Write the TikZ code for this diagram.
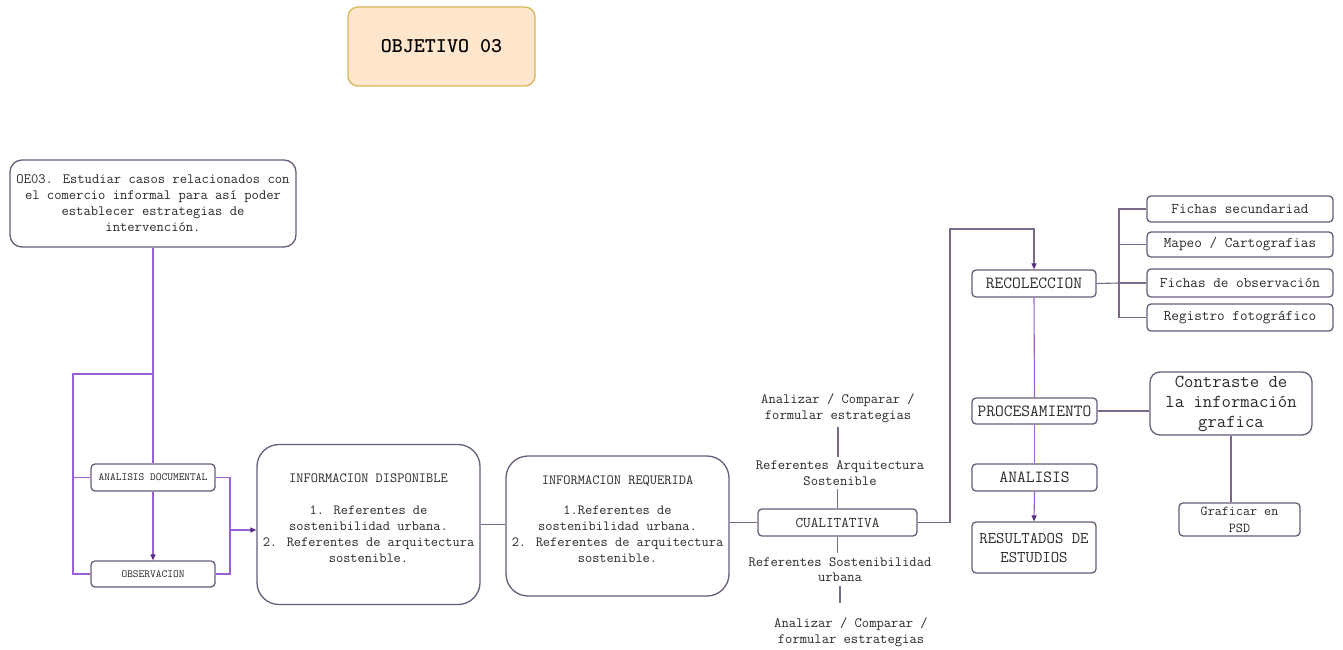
\documentclass[tikz,border=0pt]{standalone}
\usepackage{fontspec}
\newfontfamily\ttbold{lmmonolt10-bold.otf}
\usetikzlibrary{arrows.meta}
\definecolor{boxb}{HTML}{6B5B7B}
\definecolor{lineA}{HTML}{9B5FD6}
\definecolor{lineB}{HTML}{7A6A8A}
\definecolor{tipc}{HTML}{5B2C83}
\definecolor{objfill}{HTML}{FFE6CC}
\definecolor{objdraw}{HTML}{D6B656}
\definecolor{txt}{HTML}{2A2A2A}
\newcommand{\fs}[2]{\ttfamily\fontsize{#1}{#2}\selectfont}
\begin{document}
\begin{tikzpicture}[x=1pt,y=-1pt,
  box/.style={draw=boxb, line width=1.3pt, rounded corners=4pt, inner sep=0pt, align=center, text=txt},
  bigbox/.style={box, rounded corners=22pt},
  plain/.style={inner sep=4pt, align=center, text=txt},
  conA/.style={draw=lineA, line width=1.1pt},
  conB/.style={draw=lineB, line width=1.1pt},
  arr/.style={-{Triangle[length=6pt,width=5pt,color=tipc]}}
]
\useasboundingbox (0,0) rectangle (1343,650);
\fill[white] (0,0) rectangle (1343,650);

% title
\node[box, draw=objdraw, fill=objfill, rounded corners=10pt, minimum width=187pt, minimum height=79pt, font=\ttbold\fontsize{21}{24}\selectfont, text=black] (obj) at (441.5,46.5) {OBJETIVO 03};

% objective
\node[box, rounded corners=12pt, minimum width=286pt, minimum height=87pt, font=\fs{14.2}{16}] (oe) at (153,203.5)
  {OE03. Estudiar casos relacionados con\\el comercio informal para así poder\\establecer estrategias de\\intervención.};

\node[box, minimum width=124pt, minimum height=27pt, font=\fs{10.9}{12}] (ad) at (153,477.5) {ANALISIS DOCUMENTAL};
\node[box, minimum width=124pt, minimum height=26pt, font=\fs{10.9}{12}] (obs) at (153,574) {OBSERVACION};

\node[bigbox, minimum width=223pt, minimum height=160pt] (disp) at (368.5,524.5) {};
\node[plain, font=\fs{14}{16}] (disptxt) at (368.5,518.5)
  {INFORMACION DISPONIBLE\\[16pt]1. Referentes de\\sostenibilidad urbana.\\2. Referentes de arquitectura\\sostenible.};

\node[bigbox, minimum width=223pt, minimum height=140pt] (req) at (617.5,526) {};
\node[plain, font=\fs{14}{16}] (reqtxt) at (617.5,519.5)
  {INFORMACION REQUERIDA\\[14pt]1.Referentes de\\sostenibilidad urbana.\\2. Referentes de arquitectura\\sostenible.};

\node[box, minimum width=159pt, minimum height=27pt, font=\fs{14.8}{16}] (cual) at (837.5,522.5) {CUALITATIVA};

\node[plain, font=\fs{14.2}{15.5}] (la1) at (838,408) {Analizar / Comparar /\\formular estrategias};
\node[plain, font=\fs{14.2}{15.5}] (la2) at (840,473) {Referentes Arquitectura\\Sostenible};
\node[plain, font=\fs{14.2}{15.5}] (lb1) at (840,569.5) {Referentes Sostenibilidad\\urbana};
\node[plain, font=\fs{14.2}{15.5}] (lb2) at (851,632) {Analizar / Comparar /\\formular estrategias};

\node[box, minimum width=124pt, minimum height=27pt, font=\fs{17}{18}] (rec) at (1034,283.5) {RECOLECCION};
\node[box, minimum width=186pt, minimum height=26pt, font=\fs{14.8}{16}] (f1) at (1240,209) {Fichas secundariad};
\node[box, minimum width=186pt, minimum height=25pt, font=\fs{14.8}{16}] (f2) at (1240,244.5) {Mapeo / Cartografias};
\node[box, minimum width=186pt, minimum height=28pt, font=\fs{14.8}{16}] (f3) at (1240,283) {Fichas de observación};
\node[box, minimum width=186pt, minimum height=27pt, font=\fs{14.8}{16}] (f4) at (1240,317.5) {Registro fotográfico};

\node[box, minimum width=125pt, minimum height=26pt, font=\fs{17}{18}] (proc) at (1034.5,411) {PROCESAMIENTO};
\node[box, minimum width=125pt, minimum height=27pt, font=\fs{17}{18}] (ana) at (1034.5,477.5) {ANALISIS};
\node[box, minimum width=124pt, minimum height=51pt, font=\fs{16.3}{19}] (res) at (1034,547.5) {RESULTADOS DE\\ESTUDIOS};

\node[box, rounded corners=10pt, minimum width=162pt, minimum height=63pt, font=\fs{18.2}{20}] (con) at (1231,403.5) {Contraste de\\la información\\grafica};
\node[box, minimum width=121pt, minimum height=33pt, font=\fs{13.7}{17}] (gra) at (1239.5,519.5) {Graficar en\\PSD};

% coordinates
\coordinate (j1) at (153,374);
\coordinate (lx) at (73,374);
\coordinate (rx) at (230,530);
\coordinate (ux) at (950,229);
\coordinate (bx) at (1119,283);

% left tree
\draw[conA] (oe.south) -- (ad.north);
\draw[conA] (j1) -- (lx) |- (obs.west);
\draw[conA] (lx |- ad.west) -- (ad.west);
\draw[conA, arr] (ad.south) -- (obs.north);
\draw[conA] (ad.east) -- (ad.east -| rx) -- (obs.east -| rx) -- (obs.east);
\draw[conA, arr] (rx) -- (rx -| disp.west);

% middle
\draw[conB] (disp.east) -- (disp.east -| req.west);
\draw[conB] (cual.west -| req.east) -- (cual.west);
\draw[conB] (la1.south) -- (la1.south |- la2.north);
\draw[conB] (cual.north |- la2.south) -- (cual.north);
\draw[conB] (cual.south) -- (cual.south |- lb1.north);
\draw[conB, shorten >=11pt] (lb1.south) -- (lb1.south |- lb2.north);
\draw[conB, arr] (cual.east) -| (ux) -| (rec.north);

% recoleccion branches
\draw[conB] (rec.east) -- (bx);
\draw[conB] (f1.west) -- (f1.west -| bx) -- (f4.west -| bx) -- (f4.west);
\draw[conB] (f2.west -| bx) -- (f2.west);
\draw[conB] (f3.west -| bx) -- (f3.west);

% right column
\draw[conA] (rec.south) -- (proc.north);
\draw[conA] (proc.south) -- (ana.north);
\draw[conA, arr] (ana.south) -- (res.north);
\draw[conB] (proc.east) -- (proc.east -| con.west);
\draw[conB] (con.south) -- (con.south |- gra.north);
\end{tikzpicture}
\end{document}
